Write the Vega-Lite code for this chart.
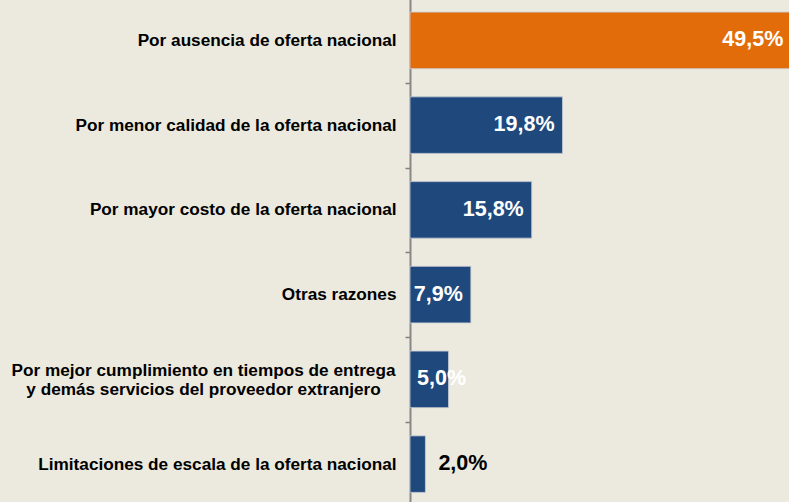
{
  "$schema": "https://vega.github.io/schema/vega-lite/v6.json",
  "autosize": {"type": "none"},
  "padding": {"left": 410, "top": -2, "right": 0, "bottom": 0},
  "width": 379,
  "height": 508.5,
  "background": "#ece9de",
  "config": {"view": {"stroke": null}},
  "data": {
    "values": [
      {"razon": "Por ausencia de oferta nacional", "pct": 49.5, "label": "49,5%", "destacado": "si"},
      {"razon": "Por menor calidad de la oferta nacional", "pct": 19.8, "label": "19,8%", "destacado": "no"},
      {"razon": "Por mayor costo de la oferta nacional", "pct": 15.8, "label": "15,8%", "destacado": "no"},
      {"razon": "Otras razones", "pct": 7.9, "label": "7,9%", "destacado": "no"},
      {"razon": "Por mejor cumplimiento en tiempos de entrega|y demás servicios del proveedor extranjero", "pct": 5.0, "label": "5,0%", "destacado": "no"},
      {"razon": "Limitaciones de escala de la oferta nacional", "pct": 2.0, "label": "2,0%", "destacado": "no"}
    ]
  },
  "encoding": {
    "y": {
      "field": "razon",
      "type": "nominal",
      "sort": null,
      "scale": {"paddingInner": 0.333, "paddingOuter": 0.1665},
      "axis": {
        "title": null,
        "labelExpr": "split(datum.label, '|')",
        "labelFont": "Liberation Sans",
        "labelFontWeight": "bold",
        "labelFontSize": 17.2,
        "labelColor": "#000000",
        "labelLineHeight": 19.5,
        "labelLimit": 500,
        "labelAlign": {"condition": {"test": "indexof(datum.value, '|') >= 0", "value": "center"}, "value": "right"},
        "labelPadding": {"condition": {"test": "indexof(datum.value, '|') >= 0", "value": 202}, "value": 9},
        "tickOffset": -42.375,
        "labelOffset": {"condition": {"test": "indexof(datum.value, '|') >= 0", "value": 33.1}, "value": 42.375},
        "tickSize": 5,
        "tickColor": "#808080",
        "tickWidth": 1.5,
        "domainColor": "#888888",
        "domainWidth": 2
      }
    }
  },
  "layer": [
    {
      "mark": {"type": "bar", "stroke": "#c8ccd4", "strokeWidth": 0.8},
      "encoding": {
        "x": {"field": "pct", "type": "quantitative", "scale": {"domain": [0, 49.2], "nice": false, "zero": true}, "axis": null},
        "color": {"field": "destacado", "type": "nominal", "scale": {"domain": ["si", "no"], "range": ["#e36c0a", "#1f497d"]}, "legend": null}
      }
    },
    {
      "transform": [{"filter": "datum.pct >= 7"}],
      "mark": {"type": "text", "align": "right", "baseline": "middle", "dx": -8, "font": "Liberation Sans", "fontWeight": "bold", "fontSize": 21.5, "color": "#ffffff"},
      "encoding": {
        "x": {"field": "pct", "type": "quantitative"},
        "text": {"field": "label"}
      }
    },
    {
      "transform": [{"filter": "datum.pct >= 4 && datum.pct < 7"}],
      "mark": {"type": "text", "align": "left", "baseline": "middle", "dx": 7, "font": "Liberation Sans", "fontWeight": "bold", "fontSize": 21.5, "color": "#ffffff"},
      "encoding": {
        "x": {"datum": 0, "type": "quantitative"},
        "text": {"field": "label"}
      }
    },
    {
      "transform": [{"filter": "datum.pct < 4"}],
      "mark": {"type": "text", "align": "left", "baseline": "middle", "dx": 13, "font": "Liberation Sans", "fontWeight": "bold", "fontSize": 21.5, "color": "#000000"},
      "encoding": {
        "x": {"field": "pct", "type": "quantitative"},
        "text": {"field": "label"}
      }
    }
  ]
}
